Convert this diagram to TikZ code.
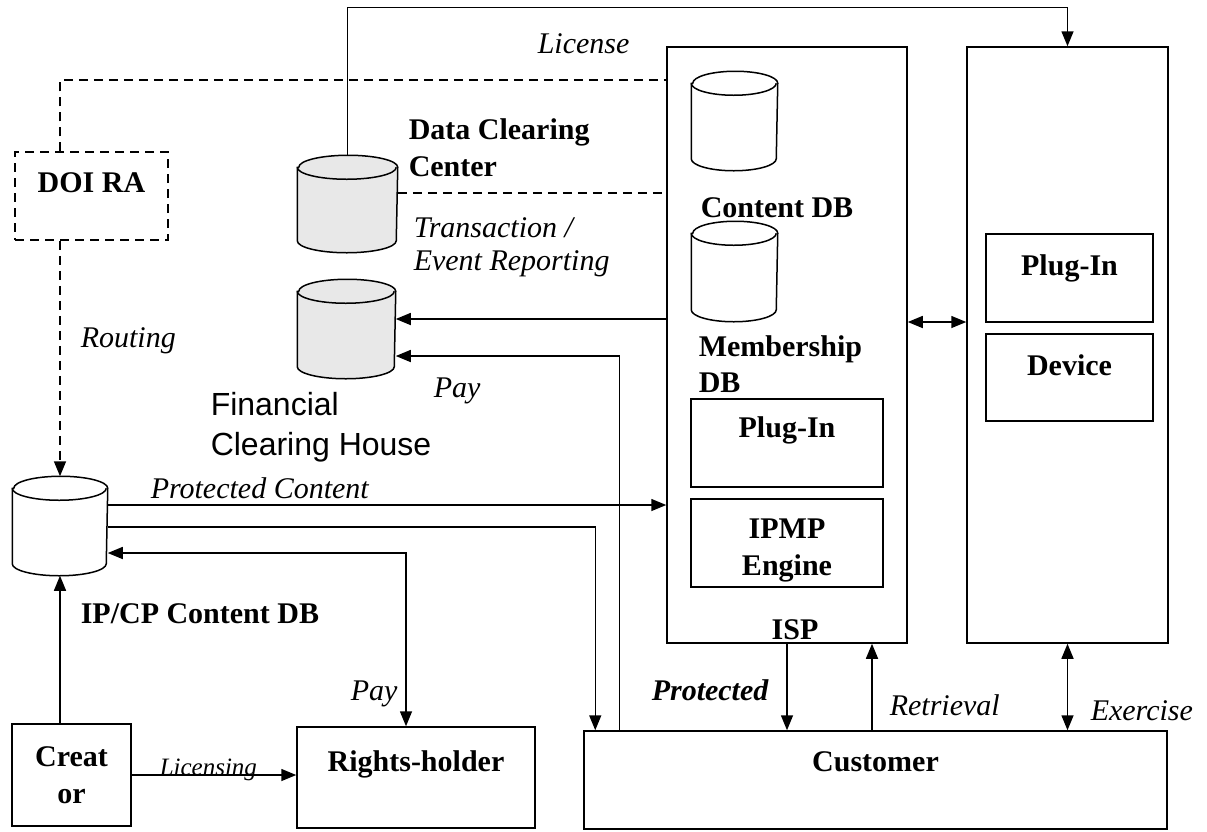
\documentclass[tikz,border=0pt]{standalone}
\usepackage{fontspec}
\setmainfont{Liberation Serif}
\newfontfamily\fchfont{Liberation Sans}
\usetikzlibrary{arrows.meta,positioning}

% cylinder outline on a named node: node, half width, fill
\newcommand{\dbbody}[3]{%
  \draw[fill=#3] ([yshift=-12pt]#1.north west) -- ([yshift=12pt]#1.south west)
    arc[start angle=180,end angle=360,x radius=#2pt,y radius=12pt]
    -- ([yshift=-12pt]#1.north east)
    arc[start angle=0,end angle=180,x radius=#2pt,y radius=12pt] -- cycle;
  \draw ([yshift=-12pt]#1.north west)
    arc[start angle=180,end angle=360,x radius=#2pt,y radius=12pt];}

\begin{document}
\begin{tikzpicture}[x=1pt,y=-1pt,line width=1.5pt,
  >={Triangle[length=15pt,width=12pt]},
  box/.style={draw,inner sep=0pt},
  db/.style={rectangle,inner sep=0pt},
  title/.style={inner sep=0pt,font=\fontsize{30}{37}\selectfont\bfseries,align=center},
  tag/.style={inner sep=0pt,font=\fontsize{30}{34}\selectfont\itshape,anchor=base west},
  dash line/.style={dash pattern=on 9pt off 6pt}]
  \useasboundingbox (0,0) rectangle (1207,831);

  % main boxes
  \node[box,dash line,minimum width=153pt,minimum height=88pt] (doira) at (91.5,196) {};
  \node[box,minimum width=240pt,minimum height=596pt] (isp) at (787,345) {};
  \node[box,minimum width=201pt,minimum height=596pt] (client) at (1067.5,345) {};
  \node[box,minimum width=192pt,minimum height=88pt] (ispplug) at (787,443) {};
  \node[box,minimum width=192pt,minimum height=88pt] (ipmp) at (787,543) {};
  \node[box,minimum width=167pt,minimum height=88pt] (devplug) at (1069.5,278) {};
  \node[box,minimum width=167pt,minimum height=87pt] (device) at (1069.5,377.5) {};
  \node[box,minimum width=583pt,minimum height=98pt] (customer) at (875.5,780) {};
  \node[box,minimum width=238pt,minimum height=101pt] (rights) at (416,777.5) {};
  \node[box,minimum width=119pt,minimum height=102pt] (creator) at (71.5,775) {};

  % databases
  \node[db,minimum width=99pt,minimum height=96pt] (dcc) at (347.5,204) {};
  \node[db,minimum width=97pt,minimum height=98pt] (fch) at (346.5,329) {};
  \node[db,minimum width=94pt,minimum height=98pt] (ipcp) at (60,526) {};
  \node[db,minimum width=85pt,minimum height=98pt] (cdb) at (734.5,121) {};
  \node[db,minimum width=85pt,minimum height=99pt] (mdb) at (734.5,271.5) {};
  \dbbody{dcc}{49.5}{gray!18}
  \dbbody{fch}{48.5}{gray!18}
  \dbbody{ipcp}{47}{white}
  \dbbody{cdb}{42.5}{white}
  \dbbody{mdb}{42.5}{white}

  % box titles
  \node[title,below=21pt of doira.north] (doiratext) {DOI RA};
  \node[title,below=18pt of ispplug.north] (ispplugtext) {Plug-In};
  \node[title,below=20pt of ipmp.north] (ipmptext) {IPMP\\Engine};
  \node[title,below=21pt of devplug.north] (devplugtext) {Plug-In};
  \node[title,below=21pt of device.north] (devicetext) {Device};
  \node[title,below=21pt of customer.north] (customertext) {Customer};
  \node[title,below=24pt of rights.north] (rightstext) {Rights-holder};
  \node[title,below=23pt of creator.north] (creatortext) {Creat\\or};
  \node[title,above=3pt of isp.south,xshift=8pt] (isptext) {ISP};

  % database names
  \node[title,align=left,anchor=north west] (dcctext) at (408,117.5) {Data Clearing\\Center};
  \node[title,anchor=base west] (cdbtext) at (700,217) {Content DB};
  \node[title,align=left,anchor=north west,font=\fontsize{30}{36}\selectfont\bfseries] (mdbtext) at (698,335) {Membership\\DB};
  \node[title,anchor=base west] (ipcptext) at (80,623) {IP/CP Content DB};
  \node[inner sep=0pt,align=left,anchor=north west,font=\fontsize{32}{40}\selectfont\fchfont] (fchtext) at (210,392) {Financial\\Clearing House};

  % flow labels
  \node[tag] (licensetext) at (537,53) {License};
  \node[tag,align=left,anchor=north west,font=\fontsize{30}{33}\selectfont\itshape] (reporttext) at (413,217) {Transaction /\\Event Reporting};
  \node[tag] (routingtext) at (80,347) {Routing};
  \node[tag] (paytext) at (433,397) {Pay};
  \node[tag] (protcontenttext) at (150,498) {Protected Content};
  \node[tag] (paytext2) at (350,700) {Pay};
  \node[tag,font=\fontsize{25}{30}\selectfont\itshape] (licensingtext) at (159,775) {Licensing};
  \node[tag,font=\fontsize{30}{34}\selectfont\bfseries\itshape] (protectedtext) at (651,700) {Protected};
  \node[tag] (retrievaltext) at (889,715) {Retrieval};
  \node[tag] (exercisetext) at (1090,720) {Exercise};

  % connectors
  \draw[->] (dcc.north) -- ++(0,-148) -| (client.north);
  \draw[dash line] ([xshift=-31.5pt]doira.north) |- ([yshift=265pt]isp.west);
  \draw[dash line] ([yshift=11pt]dcc.east) -- ([yshift=152pt]isp.west);
  \draw[dash line,->] ([xshift=-31.5pt]doira.south) -- (ipcp.north);
  \draw[->] ([yshift=26pt]isp.west) -- ([yshift=10pt]fch.east);
  \draw[->] ([xshift=36pt]customer.north west) |- ([yshift=-27pt]fch.east);
  \draw[->] ([yshift=21pt]ipcp.east) -- ([yshift=-160pt]isp.west);
  \draw[->] ([yshift=-1pt]ipcp.east) -| ([xshift=12pt]customer.north west);
  \draw[<->] ([yshift=-27pt]ipcp.east) -| ([xshift=-10pt]rights.north);
  \draw[->] ([xshift=-11.5pt]creator.north) -- (ipcp.south);
  \draw[->] (creator.east) -- ([yshift=2.5pt]rights.west);
  \draw[<->] ([yshift=23pt]isp.east) -- ([yshift=23pt]client.west);
  \draw[->] (isp.south) -- ([xshift=-88.5pt]customer.north);
  \draw[->] ([xshift=-3.5pt]customer.north) -- ([xshift=85pt]isp.south);
  \draw[<->] (client.south) -- ([xshift=192pt]customer.north);
\end{tikzpicture}
\end{document}
